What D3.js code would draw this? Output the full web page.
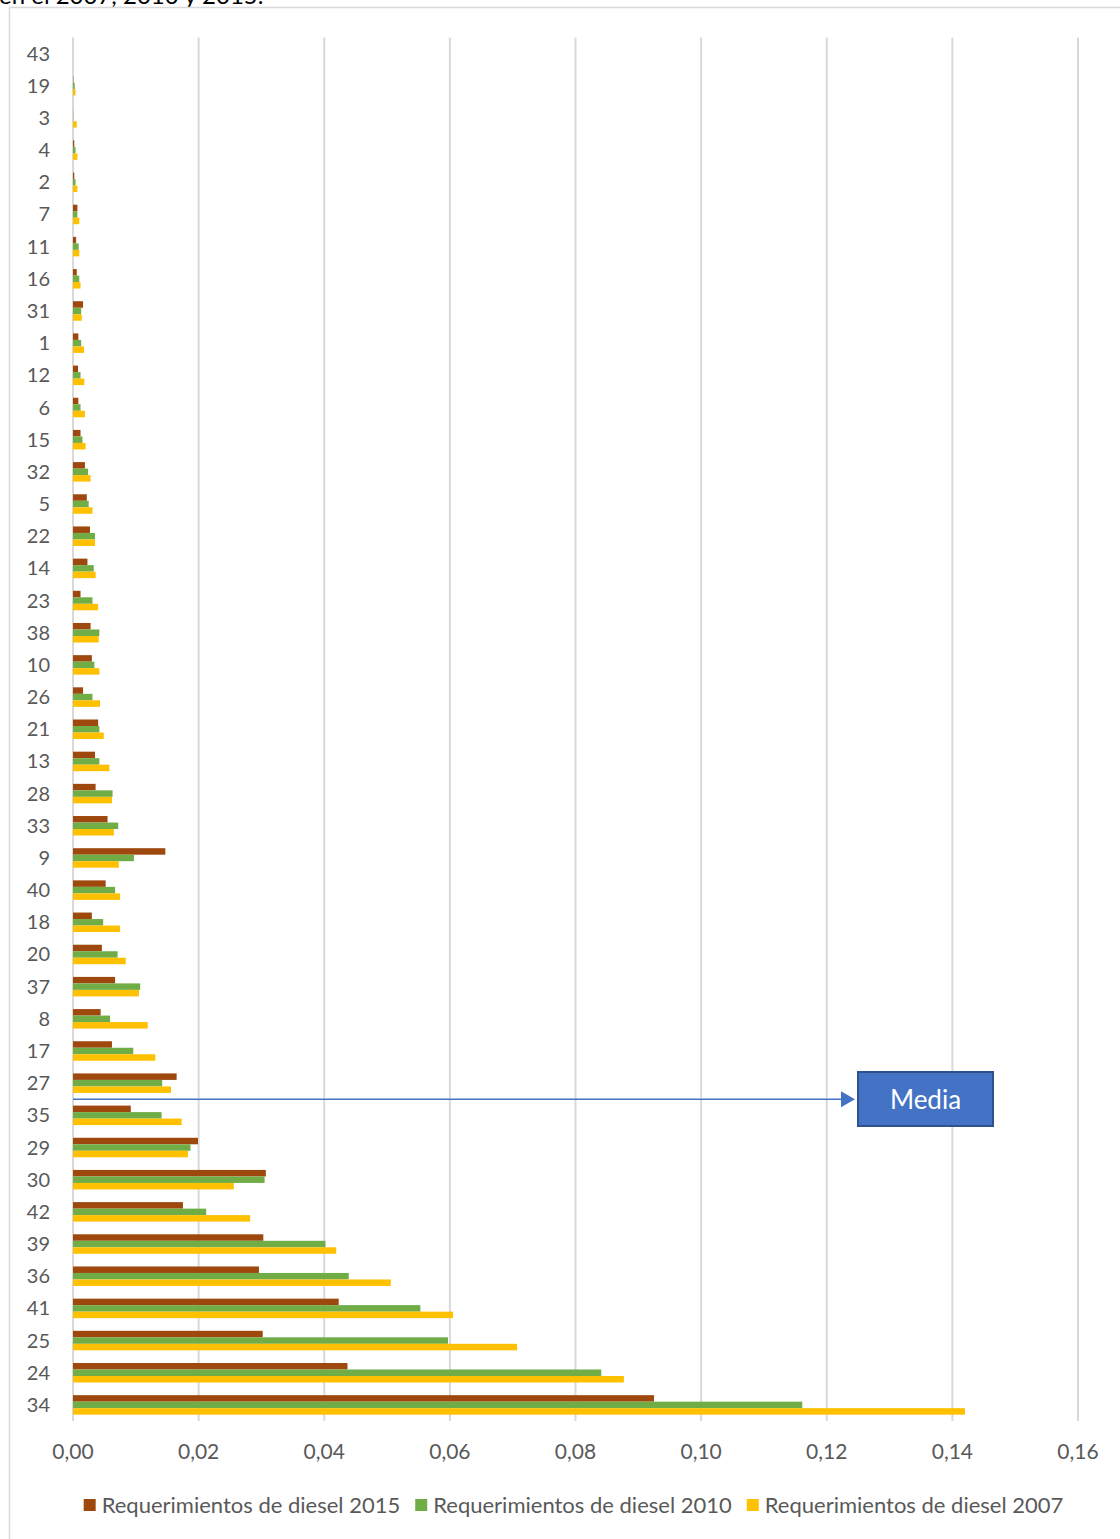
<!DOCTYPE html>
<html lang="es">
<head>
  <meta charset="UTF-8">
  <script src="https://cdnjs.cloudflare.com/ajax/libs/d3/7.8.5/d3.min.js"></script>
  <title>Requerimientos de diesel</title>
  <style>
    body { margin: 0; background: #fff; }
    svg { display: block; font-family: Lato, "Open Sans", sans-serif; }
  </style>
</head>
<body>
  <script>
      // categories, top to bottom as in the chart
      var categories = ["43","19","3","4","2","7","11","16","31","1","12","6","15","32","5","22","14","23",
                        "38","10","26","21","13","28","33","9","40","18","20","37","8","17","27","35","29",
                        "30","42","39","36","41","25","24","34"];

      // series values (same order as categories)
      var diesel2015 = [0,0.00005,0.00002,0.0002,0.0002,0.0007,0.0005,0.0006,0.0016,0.00085,0.0008,0.00085,0.0012,0.0019,
                        0.0022,0.0027,0.0023,0.0012,0.0028,0.003,0.0016,0.004,0.0035,0.0036,0.0055,0.0147,0.0052,0.003,
                        0.0046,0.0067,0.0044,0.0062,0.0165,0.0092,0.0199,0.0307,0.0175,0.0303,0.0296,0.0423,0.0302,0.0437,0.0925];
      var diesel2010 = [0,0.00027,0.00005,0.0004,0.0004,0.0007,0.0009,0.001,0.0013,0.0013,0.0012,0.0012,0.0015,0.0024,
                        0.0025,0.0035,0.0033,0.0031,0.0042,0.0034,0.0031,0.0042,0.0042,0.0063,0.0072,0.0097,0.0067,0.0048,
                        0.0071,0.0107,0.0059,0.0096,0.0142,0.0141,0.0187,0.0305,0.0212,0.0402,0.0439,0.0553,0.0597,0.0841,0.1161];
      var diesel2007 = [0,0.0004,0.0006,0.0007,0.0007,0.001,0.001,0.0012,0.0014,0.00175,0.0018,0.0019,0.002,0.0028,
                        0.0031,0.0035,0.0036,0.004,0.0041,0.0042,0.0043,0.0049,0.0058,0.0062,0.0065,0.0073,0.0075,0.0075,
                        0.0084,0.0105,0.0119,0.0131,0.0156,0.0173,0.0183,0.0256,0.0282,0.0419,0.0506,0.0605,0.0707,0.0877,0.142];

      var seriesNames = ["Requerimientos de diesel 2015", "Requerimientos de diesel 2010", "Requerimientos de diesel 2007"];
      var xTicks = [0, 0.02, 0.04, 0.06, 0.08, 0.10, 0.12, 0.14, 0.16];
      var mediaLabel = "Media";

      var colors = ["#9E480E", "#70AD47", "#FFC000"];
      var width = 1120, height = 1539;

      var svg = d3.select("body").append("svg")
        .attr("width", width)
        .attr("height", height);

      // caption above the chart (cut off at the top edge, as in the source image)
      svg.append("text")
        .attr("x", -1).attr("y", 4)
        .attr("font-size", 24).attr("fill", "#000")
        .text("en el 2007, 2010 y 2015.");

      // chart area border
      svg.append("rect")
        .attr("x", 9.5).attr("y", 7.5)
        .attr("width", 1130).attr("height", 1560)
        .attr("fill", "none").attr("stroke", "#D9D9D9").attr("stroke-width", 1.5);

      var x = d3.scaleLinear().domain([0, 0.16]).range([73, 1078]);
      var y = d3.scaleBand().domain(categories).range([37.5, 1421]).paddingInner(0.394).paddingOuter(0.197);
      var ySub = d3.scaleBand().domain(d3.range(3)).range([0, y.bandwidth()]);

      // gridlines
      svg.append("g").selectAll("line").data(xTicks).enter().append("line")
        .attr("x1", function(d){ return x(d); }).attr("x2", function(d){ return x(d); })
        .attr("y1", 37.5).attr("y2", 1421)
        .attr("stroke", "#D9D9D9").attr("stroke-width", 2);

      // x tick labels
      svg.append("g").selectAll("text").data(xTicks).enter().append("text")
        .attr("x", function(d){ return x(d); })
        .attr("y", 1459)
        .attr("text-anchor", "middle")
        .attr("font-size", 21).attr("fill", "#595959")
        .text(function(d){ return d3.format(".2f")(d).replace(".", ","); });

      // category labels
      svg.append("g").selectAll("text").data(categories).enter().append("text")
        .attr("x", 50)
        .attr("y", function(d){ return y(d) + y.bandwidth() / 2 + 7; })
        .attr("text-anchor", "end")
        .attr("font-size", 20).attr("fill", "#595959")
        .text(function(d){ return d; });

      // bars
      var allSeries = [diesel2015, diesel2010, diesel2007];
      var groups = svg.append("g").selectAll("g").data(categories).enter().append("g")
        .attr("transform", function(d){ return "translate(0," + y(d) + ")"; });

      groups.selectAll("rect")
        .data(function(d, i){ return allSeries.map(function(s, k){ return {k: k, v: s[i]}; }); })
        .enter().append("rect")
        .attr("x", x(0))
        .attr("y", function(d){ return ySub(d.k); })
        .attr("width", function(d){ return x(d.v) - x(0); })
        .attr("height", ySub.bandwidth())
        .attr("fill", function(d){ return colors[d.k]; });

      // "Media" callout
      var lineY = (y("27") + y.bandwidth() + y("35")) / 2;
      svg.append("line")
        .attr("x1", x(0)).attr("x2", 842)
        .attr("y1", lineY).attr("y2", lineY)
        .attr("stroke", "#4472C4").attr("stroke-width", 1.5);
      svg.append("path")
        .attr("d", "M841," + (lineY - 8) + "L855," + lineY + "L841," + (lineY + 8) + "Z")
        .attr("fill", "#4472C4");
      svg.append("rect")
        .attr("x", 858).attr("y", 1072)
        .attr("width", 135).attr("height", 54)
        .attr("fill", "#4472C4").attr("stroke", "#2F528F").attr("stroke-width", 2);
      svg.append("text")
        .attr("x", 925.5).attr("y", 1109)
        .attr("text-anchor", "middle")
        .attr("font-size", 26).attr("fill", "#fff")
        .text(mediaLabel);

      // legend
      var legend = svg.append("g");
      var items = legend.selectAll("g").data(seriesNames).enter().append("g");
      items.append("rect")
        .attr("width", 12).attr("height", 12)
        .attr("y", -6)
        .attr("fill", function(d, i){ return colors[i]; });
      items.append("text")
        .attr("x", 18).attr("y", 8)
        .attr("font-size", 22).attr("fill", "#595959")
        .text(function(d){ return d; });

      var cursor = 0;
      items.each(function(){
        var w = this.querySelector("text").getComputedTextLength() + 18;
        d3.select(this).attr("transform", "translate(" + cursor + ",0)");
        cursor += w + 15;
      });
      cursor -= 15;
      legend.attr("transform", "translate(" + (573.5 - cursor / 2) + ",1505)");
  </script>
</body>
</html>
